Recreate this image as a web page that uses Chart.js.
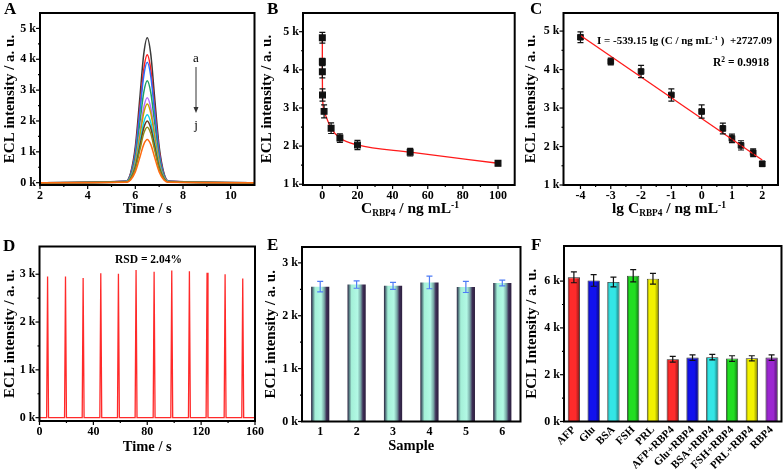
<!DOCTYPE html>
<html>
<head>
<meta charset="utf-8">
<script src="https://cdn.jsdelivr.net/npm/chart.js@4.4.0/dist/chart.umd.min.js"></script>
<style>
  body { margin: 0; background: #fff; }
  #fig { position: relative; width: 783px; height: 469px; overflow: hidden; font-family: 'Liberation Serif', 'Times New Roman', serif; }
  #fig canvas { position: absolute; }
  .lbl { position: absolute; font-weight: bold; font-size: 17px; line-height: 1; color: #000; }
</style>
</head>
<body>
<div id="fig">
  <canvas id="cA"></canvas>
  <canvas id="cB"></canvas>
  <canvas id="cC"></canvas>
  <canvas id="cD"></canvas>
  <canvas id="cE"></canvas>
  <canvas id="cF"></canvas>
  <div class="lbl" style="left:4px;top:0px">A</div>
  <div class="lbl" style="left:267px;top:0px">B</div>
  <div class="lbl" style="left:530px;top:0px">C</div>
  <div class="lbl" style="left:3px;top:237px">D</div>
  <div class="lbl" style="left:267px;top:236px">E</div>
  <div class="lbl" style="left:531px;top:236px">F</div>
</div>
<script>
// ---- data ----
// A: ECL-time curves a..j
const aTimes = [2, 5.6, 5.8, 6.0, 6.2, 6.35, 6.5, 6.65, 6.8, 7.0, 7.2, 7.4, 11];
const aCurves = [
  [0, 50, 310, 1170, 2850, 4150, 4700, 4150, 2850, 1170, 310, 50, 0],
  [0, 45, 275, 1035, 2520, 3660, 4150, 3660, 2520, 1035, 275, 45, 0],
  [0, 45, 255, 970, 2370, 3440, 3900, 3440, 2370, 970, 255, 45, 0],
  [0, 35, 220, 820, 2000, 2910, 3300, 2910, 2000, 820, 220, 35, 0],
  [0, 30, 180, 685, 1670, 2425, 2750, 2425, 1670, 685, 180, 30, 0],
  [0, 30, 170, 635, 1550, 2250, 2550, 2250, 1550, 635, 170, 30, 0],
  [0, 25, 145, 550, 1335, 1940, 2200, 1940, 1335, 550, 145, 25, 0],
  [0, 20, 130, 500, 1215, 1765, 2000, 1765, 1215, 500, 130, 20, 0],
  [0, 20, 120, 450, 1095, 1590, 1800, 1590, 1095, 450, 120, 20, 0],
  [0, 15, 90, 350, 850, 1235, 1400, 1235, 850, 350, 90, 15, 0]
];
const aColors = ['#3a3a3a', '#ff2020', '#2a6cff', '#1f9e63', '#b46cff', '#c9a000', '#10d0e8', '#6b3a1f', '#8c8c1a', '#ff6a10'];
const aXTicks = [2, 4, 6, 8, 10];
const aYTicks = [0, 1000, 2000, 3000, 4000, 5000];

// B / C: calibration
const bConc = [0.0001, 0.001, 0.01, 0.1, 1, 5, 10, 20, 50, 100];
const cLogConc = [-4, -3, -2, -1, 0, 0.7, 1, 1.3, 1.7, 2];
const bcValues = [4840, 4210, 3950, 3340, 2910, 2470, 2210, 2030, 1840, 1550];
const bcErrors = [140, 90, 160, 160, 170, 140, 110, 120, 100, 65];
const cFitX = [-4, 2];
const cFitY = [4884, 1649];
const bXTicks = [0, 20, 40, 60, 80, 100];
const cXTicks = [-4, -3, -2, -1, 0, 1, 2];
const bcYTicks = [1000, 2000, 3000, 4000, 5000];

// D: stability scans
const dTimes = [0, 5.3, 6, 6.7, 18.6, 19.3, 20.0, 31.7, 32.4, 33.1, 44.8, 45.5, 46.2, 57.9, 58.6, 59.3,
  71.0, 71.7, 72.4, 84.4, 85.1, 85.8, 97.5, 98.2, 98.9, 110.6, 111.3, 112.0, 123.7, 124.4, 125.1,
  137.1, 137.8, 138.5, 150.2, 150.9, 151.6, 160];
const dValues = [0, 0, 2950, 0, 0, 2950, 0, 0, 2920, 0, 0, 3020, 0, 0, 3010, 0,
  0, 3090, 0, 0, 3050, 0, 0, 3080, 0, 0, 3060, 0, 0, 3030, 0,
  0, 3000, 0, 0, 2910, 0, 0];
const dXTicks = [0, 40, 80, 120, 160];
const dYTicks = [0, 1000, 2000, 3000];

// E: reproducibility
const eSamples = ['1', '2', '3', '4', '5', '6'];
const eValues = [2550, 2590, 2565, 2630, 2545, 2620];
const eErrors = [100, 70, 65, 120, 105, 55];
const eYTicks = [0, 1000, 2000, 3000];

// F: selectivity
const fNames = ['AFP', 'Glu', 'BSA', 'FSH', 'PRL', 'AFP+RBP4', 'Glu+RBP4', 'BSA+RBP4', 'FSH+RBP4', 'PRL+RBP4', 'RBP4'];
const fValues = [6160, 6030, 5960, 6230, 6100, 2660, 2730, 2750, 2690, 2700, 2730];
const fErrors = [230, 250, 210, 260, 230, 120, 120, 120, 120, 110, 120];
const fColors = ['#ff2b2b', '#1212ee', '#33e6e6', '#22dd22', '#f2f200', '#ff2b2b', '#1212ee', '#33e6e6', '#22dd22', '#f2f200', '#9b27d0'];
const fYTicks = [0, 2000, 4000, 6000];

// ---- helpers ----
const FONT = "'Liberation Serif', 'Times New Roman', serif";
const tickFont = { family: FONT, size: 12, weight: 'bold' };
const kLabel = v => (v / 1000) + ' k';
const setTicks = vals => s => { s.ticks = vals.map(v => ({ value: v })); };

function shade(hex, f) {
  const n = parseInt(hex.slice(1), 16);
  const r = Math.round(((n >> 16) & 255) * f), g = Math.round(((n >> 8) & 255) * f), b = Math.round((n & 255) * f);
  return 'rgb(' + r + ',' + g + ',' + b + ')';
}

function yAxis(min, max, ticks, title, pad) {
  return {
    min: min, max: max,
    afterBuildTicks: setTicks(ticks),
    grid: { display: false, drawTicks: false },
    border: { display: false },
    ticks: { color: '#000', font: tickFont, padding: 4, callback: kLabel },
    title: { display: true, text: title, color: '#000', font: { family: FONT, size: 15, weight: 'bold' }, padding: { top: pad, bottom: 0 } }
  };
}

function xLinear(min, max, ticks, title, pb) {
  return {
    type: 'linear', min: min, max: max,
    afterBuildTicks: setTicks(ticks),
    grid: { display: false, drawTicks: false },
    border: { display: false },
    ticks: { color: '#000', font: tickFont, padding: 4, maxRotation: 0, autoSkip: false, callback: v => String(v) },
    title: { display: !!title, text: title || '', color: '#000', font: { family: FONT, size: 14.5, weight: 'bold' }, padding: { top: 0, bottom: pb || 0 } }
  };
}

// frame around plot area
const frame = {
  id: 'frame',
  afterDraw(chart) {
    const a = chart.chartArea, ctx = chart.ctx;
    ctx.save();
    ctx.strokeStyle = '#000';
    ctx.lineWidth = 2;
    ctx.strokeRect(a.left, a.top, a.right - a.left, a.bottom - a.top);
    ctx.restore();
  }
};

// outward major/minor ticks
const axisTicks = {
  id: 'axisTicks',
  afterDraw(chart, args, opts) {
    const ctx = chart.ctx, a = chart.chartArea;
    ctx.save();
    ctx.strokeStyle = '#000';
    ctx.lineWidth = 1.2;
    ['x', 'y'].forEach(id => {
      if (!opts[id]) return;
      const s = chart.scales[id];
      const vals = s.ticks.map(t => t.value);
      const draw = (v, len) => {
        const p = s.getPixelForValue(v);
        ctx.beginPath();
        if (id === 'x') { ctx.moveTo(p, a.bottom); ctx.lineTo(p, a.bottom + len); }
        else { ctx.moveTo(a.left, p); ctx.lineTo(a.left - len, p); }
        ctx.stroke();
      };
      vals.forEach(v => draw(v, 4));
      for (let i = 0; i + 1 < vals.length; i++) draw((vals[i] + vals[i + 1]) / 2, 2);
    });
    ctx.restore();
  }
};

// vertical error bars
const errorBars = {
  id: 'errorBars',
  afterDatasetsDraw(chart) {
    const ctx = chart.ctx, ys = chart.scales.y;
    chart.data.datasets.forEach((ds, i) => {
      if (!ds.errors) return;
      const meta = chart.getDatasetMeta(i);
      ctx.save();
      ctx.strokeStyle = ds.errorColor || '#000';
      ctx.lineWidth = 1.2;
      meta.data.forEach((el, j) => {
        const d = ds.data[j];
        const v = typeof d === 'object' ? d.y : d;
        const top = ys.getPixelForValue(v + ds.errors[j]);
        const bot = ys.getPixelForValue(v - ds.errors[j]);
        const cap = ds.errorCap || 3;
        ctx.beginPath();
        ctx.moveTo(el.x, top); ctx.lineTo(el.x, bot);
        ctx.moveTo(el.x - cap, top); ctx.lineTo(el.x + cap, top);
        ctx.moveTo(el.x - cap, bot); ctx.lineTo(el.x + cap, bot);
        ctx.stroke();
      });
      ctx.restore();
    });
  }
};

// text with sub/superscripts and simple arrows
function drawRich(ctx, it) {
  const size = it.size || 14, weight = it.weight || 'bold';
  const parts = it.parts.map(p => ({ t: p[0], s: size * (p[1] || 1), dy: p[2] || 0 }));
  let w = 0;
  parts.forEach(p => { ctx.font = weight + ' ' + p.s + 'px ' + FONT; p.w = ctx.measureText(p.t).width; w += p.w; });
  let x = it.align === 'center' ? it.x - w / 2 : it.x;
  ctx.fillStyle = '#000';
  ctx.textBaseline = 'alphabetic';
  ctx.textAlign = 'left';
  parts.forEach(p => { ctx.font = weight + ' ' + p.s + 'px ' + FONT; ctx.fillText(p.t, x, it.y + p.dy); x += p.w; });
}
const notes = {
  id: 'notes',
  afterDraw(chart, args, opts) {
    const ctx = chart.ctx;
    ctx.save();
    (opts.items || []).forEach(it => drawRich(ctx, it));
    (opts.arrows || []).forEach(ar => {
      ctx.strokeStyle = '#333'; ctx.fillStyle = '#333'; ctx.lineWidth = 1;
      ctx.beginPath(); ctx.moveTo(ar.x, ar.y1); ctx.lineTo(ar.x, ar.y2 - 5); ctx.stroke();
      ctx.beginPath(); ctx.moveTo(ar.x - 2.5, ar.y2 - 6); ctx.lineTo(ar.x + 2.5, ar.y2 - 6); ctx.lineTo(ar.x, ar.y2); ctx.closePath(); ctx.fill();
    });
    ctx.restore();
  }
};

function barFill(stopsFor, pct) {
  return c => {
    const ch = c.chart, xs = ch.scales.x;
    const stops = stopsFor(c.dataIndex || 0);
    if (c.type !== 'data' || !ch.chartArea || !xs) return stops[1][1];
    const cx = xs.getPixelForValue(c.dataIndex);
    const hw = xs.width / ch.data.labels.length * pct / 2;
    const g = ch.ctx.createLinearGradient(cx - hw, 0, cx + hw, 0);
    stops.forEach(s => g.addColorStop(s[0], s[1]));
    return g;
  };
}

function panel(id, box, area, cfg) {
  const cv = document.getElementById(id);
  cv.width = box.w; cv.height = box.h;
  cv.style.left = box.l + 'px'; cv.style.top = box.t + 'px';
  const yW = area.L - box.l, xH = box.t + box.h - area.B;
  const o = cfg.options;
  o.responsive = false;
  o.animation = false;
  o.layout = { padding: { top: area.T - box.t, right: box.l + box.w - area.R, left: 0, bottom: 0 } };
  o.scales.x.afterFit = s => { s.height = xH; };
  o.scales.y.afterFit = s => { s.width = yW; };
  o.plugins = Object.assign({ legend: { display: false }, tooltip: { enabled: false } }, o.plugins || {});
  cfg.plugins = [frame, axisTicks, errorBars, notes];
  return new Chart(cv, cfg);
}

const pts = (xs, ys) => xs.map((x, i) => ({ x: x, y: ys[i] }));

// ---- A ----
panel('cA', { l: 0, t: 0, w: 258, h: 232 }, { L: 40, T: 13, R: 254.5, B: 185 }, {
  type: 'line',
  data: {
    datasets: aCurves.map((c, i) => ({
      data: pts(aTimes, c), borderColor: aColors[i], borderWidth: 1.5,
      pointRadius: 0, cubicInterpolationMode: 'monotone', order: aCurves.length - i
    }))
  },
  options: {
    scales: { x: xLinear(2, 11, aXTicks, 'Time / s', 13.6), y: yAxis(-75, 5500, aYTicks, 'ECL intensity / a. u.', 1) },
    plugins: {
      axisTicks: { x: true, y: true },
      notes: {
        items: [
          { x: 196, y: 61.5, align: 'center', size: 13, weight: 'normal', parts: [['a']] },
          { x: 196, y: 129, align: 'center', size: 13, weight: 'normal', parts: [['j']] }
        ],
        arrows: [{ x: 196, y1: 67, y2: 113 }]
      }
    }
  }
});

// ---- B ----
panel('cB', { l: 258, t: 0, w: 262, h: 232 }, { L: 303, T: 13, R: 517, B: 185 }, {
  type: 'line',
  data: {
    datasets: [{
      data: pts(bConc, bcValues), errors: bcErrors, errorColor: '#111', errorCap: 3,
      borderColor: '#ff1a1a', borderWidth: 1.3, cubicInterpolationMode: 'monotone',
      pointStyle: 'rect', pointRadius: 4, pointBackgroundColor: '#111', pointBorderColor: '#111'
    }]
  },
  options: {
    scales: { x: xLinear(-11, 109.5, bXTicks), y: yAxis(980, 5490, bcYTicks, 'ECL intensity / a. u.', 0) },
    plugins: {
      axisTicks: { x: true, y: true },
      notes: { items: [{ x: 152, y: 213, align: 'center', size: 15.5, parts: [['C'], ['RBP4', 0.6, 3], [' / ng mL'], ['-1', 0.62, -5.5]] }] }
    }
  }
});

// ---- C ----
panel('cC', { l: 520, t: 0, w: 263, h: 232 }, { L: 563.5, T: 13, R: 781.5, B: 185 }, {
  type: 'line',
  data: {
    datasets: [
      { data: pts(cFitX, cFitY), borderColor: '#ff1a1a', borderWidth: 1.3, pointRadius: 0 },
      {
        data: pts(cLogConc, bcValues), errors: bcErrors, errorColor: '#111', errorCap: 3, showLine: false,
        pointStyle: 'rect', pointRadius: 4, pointBackgroundColor: '#111', pointBorderColor: '#111'
      }
    ]
  },
  options: {
    scales: { x: xLinear(-4.56, 2.52, cXTicks), y: yAxis(1000, 5470, bcYTicks, 'ECL intensity / a. u.', 2) },
    plugins: {
      axisTicks: { x: true, y: true },
      notes: {
        items: [
          { x: 149, y: 213, align: 'center', size: 15.5, parts: [['lg C'], ['RBP4', 0.6, 3], [' / ng mL'], ['-1', 0.62, -5.5]] },
          { x: 77, y: 44, size: 11, parts: [['I = -539.15 lg (C / ng mL'], ['-1', 0.65, -4], [' )  +2727.09']] },
          { x: 193, y: 65.5, size: 11.5, parts: [['R'], ['2', 0.65, -4], [' = 0.9918']] }
        ]
      }
    }
  }
});

// ---- D ----
panel('cD', { l: 0, t: 232, w: 270, h: 237 }, { L: 39.5, T: 246.5, R: 255, B: 421 }, {
  type: 'line',
  data: {
    datasets: [{ data: pts(dTimes, dValues), borderColor: '#ff2a2a', borderWidth: 1.3, pointRadius: 0, tension: 0 }]
  },
  options: {
    scales: { x: xLinear(0, 160, dXTicks, 'Time / s', 12.6), y: yAxis(-70, 3580, dYTicks, 'ECL intensity / a. u.', 1) },
    plugins: {
      axisTicks: { x: true, y: true },
      notes: { items: [{ x: 115, y: 31.3, size: 11.5, parts: [['RSD = 2.04%']] }] }
    }
  }
});

// ---- E ----
const eStops = () => [[0, '#2c1f3d'], [0.08, '#4e6e78'], [0.22, '#a4f0d8'], [0.55, '#b2f8e4'], [0.72, '#78a8a6'], [0.85, '#3e2f58'], [1, '#2c1f3d']];
panel('cE', { l: 258, t: 232, w: 264, h: 237 }, { L: 302, T: 247, R: 520.5, B: 421.5 }, {
  type: 'bar',
  data: {
    labels: eSamples,
    datasets: [{
      data: eValues, errors: eErrors, errorColor: '#4f7cf5', errorCap: 3,
      backgroundColor: barFill(eStops, 0.5), borderWidth: 0, barPercentage: 0.5, categoryPercentage: 1
    }]
  },
  options: {
    scales: {
      x: {
        grid: { display: false, drawTicks: false }, border: { display: false },
        ticks: { color: '#000', font: tickFont, padding: 3, maxRotation: 0 },
        title: { display: true, text: 'Sample', color: '#000', font: { family: FONT, size: 14.5, weight: 'bold' }, padding: { top: 0, bottom: 13.6 } }
      },
      y: yAxis(0, 3300, eYTicks, 'ECL intensity / a. u.', 4)
    },
    plugins: { axisTicks: { x: false, y: true } }
  }
});

// ---- F ----
const fStops = i => [[0, shade(fColors[i], 0.45)], [0.2, fColors[i]], [0.65, fColors[i]], [1, shade(fColors[i], 0.5)]];
panel('cF', { l: 522, t: 232, w: 261, h: 237 }, { L: 564, T: 246, R: 781.5, B: 421.5 }, {
  type: 'bar',
  data: {
    labels: fNames,
    datasets: [{
      data: fValues, errors: fErrors, errorColor: '#111', errorCap: 3,
      backgroundColor: barFill(fStops, 0.62), borderColor: '#222', borderWidth: 0.8,
      barPercentage: 0.62, categoryPercentage: 1
    }]
  },
  options: {
    scales: {
      x: {
        grid: { display: false, drawTicks: false }, border: { display: false },
        ticks: { color: '#000', font: { family: FONT, size: 11, weight: 'bold' }, padding: 2, minRotation: 45, maxRotation: 45, autoSkip: false }
      },
      y: yAxis(0, 7500, fYTicks, 'ECL Intensity / a. u.', 1)
    },
    plugins: { axisTicks: { x: false, y: true } }
  }
});
</script>
</body>
</html>
